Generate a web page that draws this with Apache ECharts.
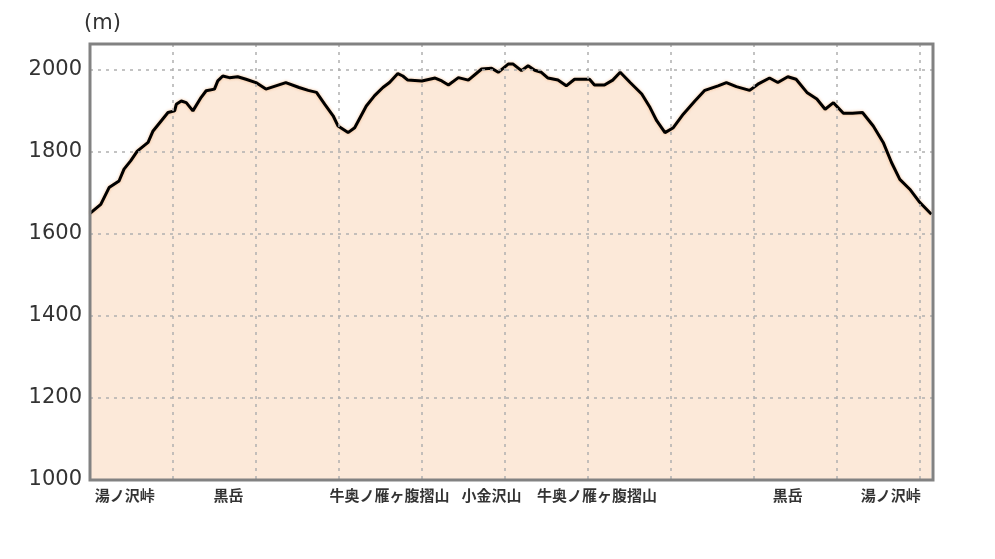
<!DOCTYPE html>
<html>
<head>
<meta charset="utf-8">
<script src="https://cdn.jsdelivr.net/npm/echarts@6/dist/echarts.min.js"></script>
<style>
html,body{margin:0;padding:0;background:#fff;}
#chart{width:995px;height:559px;}
</style>
</head>
<body>
<div id="chart"></div>
<script>
// distance along route (km)
const distances = [0,0.13,0.23,0.35,0.41,0.49,0.57,0.70,0.76,0.86,0.94,1.02,1.04,1.10,1.16,1.24,1.34,1.40,1.50,1.54,1.60,1.68,1.78,1.88,2.00,2.12,2.24,2.36,2.52,2.63,2.73,2.83,2.93,2.99,3.11,3.19,3.33,3.43,3.53,3.61,3.71,3.77,3.83,4.00,4.16,4.24,4.32,4.44,4.56,4.72,4.84,4.92,5.04,5.10,5.20,5.28,5.36,5.44,5.52,5.64,5.74,5.84,6.02,6.08,6.20,6.30,6.39,6.51,6.65,6.75,6.83,6.93,7.03,7.15,7.29,7.41,7.57,7.67,7.79,7.95,8.05,8.19,8.29,8.41,8.51,8.64,8.76,8.86,8.96,9.08,9.19,9.31,9.44,9.56,9.66,9.76,9.88,10.00,10.14];
// elevation (m)
const elevations = [1650,1672,1713,1729,1758,1778,1802,1823,1851,1876,1896,1900,1916,1924,1920,1900,1933,1949,1953,1973,1985,1981,1983,1977,1969,1953,1961,1969,1957,1950,1945,1916,1888,1863,1847,1859,1912,1937,1957,1969,1991,1985,1975,1973,1980,1973,1963,1981,1975,2002,2004,1994,2014,2014,1998,2010,1999,1994,1980,1975,1961,1977,1977,1963,1963,1975,1994,1969,1941,1908,1876,1847,1859,1892,1924,1950,1961,1969,1959,1950,1965,1980,1969,1983,1977,1945,1929,1904,1920,1894,1894,1896,1863,1823,1774,1733,1709,1677,1648];
// place names along route
const placeNames = ['湯ノ沢峠','黒岳','牛奥ノ雁ヶ腹摺山','小金沢山','牛奥ノ雁ヶ腹摺山','黒岳','湯ノ沢峠'];
const placeDistances = [0.42,1.67,3.61,4.84,6.11,8.41,9.65];
const yTicks = [1000,1200,1400,1600,1800,2000];

const yMin = 1000, yMax = 2063, xMin = 0, xMax = 10.16;

const profile = distances.map((d,i)=>[d,elevations[i]]);
const places = placeDistances.map((d,i)=>({name:placeNames[i], value:[d,yMin]}));

const chart = echarts.init(document.getElementById('chart'), null, {renderer:'canvas'});
chart.setOption({
  animation:false,
  backgroundColor:'#ffffff',
  grid:{left:90,right:62,top:44,bottom:79,show:true,borderColor:'#828282',borderWidth:3,backgroundColor:'transparent',z:10},
  xAxis:{
    type:'value',min:xMin,max:xMax,interval:1,
    axisLine:{show:false},axisTick:{show:false},axisLabel:{show:false},
    splitLine:{show:true,lineStyle:{color:'#b0b0b0',width:1.5,type:[3,5]}},
    z:5
  },
  yAxis:{
    type:'value',min:yMin,max:yMax,interval:200,
    name:'(m)',nameLocation:'end',nameGap:10,
    nameTextStyle:{fontFamily:'DejaVu Sans',fontSize:21,color:'#333',align:'left',padding:[0,0,0,-6]},
    axisLine:{show:false},axisTick:{show:false},
    axisLabel:{fontFamily:'DejaVu Sans',fontSize:21,color:'#333',margin:8,
      formatter:function(v){return yTicks.indexOf(v)>=0?String(v):'';}},
    splitLine:{show:true,lineStyle:{color:'#b0b0b0',width:1.5,type:[3,5]}},
    z:5
  },
  series:[
    {
      type:'line',data:profile,showSymbol:false,symbol:'none',smooth:false,
      lineStyle:{color:'#000',width:3,shadowColor:'rgba(235,150,80,0.6)',shadowBlur:3},
      areaStyle:{color:'#fbe0c9',origin:'start'},
      z:2,silent:true
    },
    {
      type:'scatter',data:places,symbolSize:0,silent:true,clip:false,
      label:{show:true,position:'bottom',distance:8,formatter:'{b}',
        fontFamily:'Noto Sans CJK JP',fontWeight:'bold',fontSize:15,color:'#000'},
      z:20
    }
  ]
});
</script>
</body>
</html>
